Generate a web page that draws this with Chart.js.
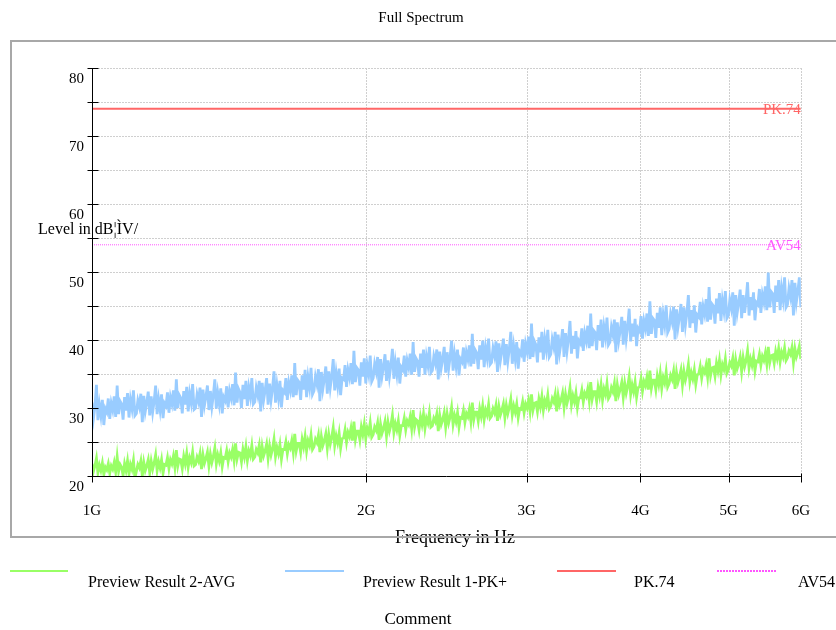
<!DOCTYPE html>
<html>
<head>
<meta charset="utf-8">
<title>Full Spectrum</title>
<script src="https://cdn.jsdelivr.net/npm/chart.js@4"></script>
<style>
    html, body { margin: 0; padding: 0; background: #ffffff; }
    #wrap { position: relative; width: 836px; height: 630px; }
</style>
</head>
<body>
<div id="wrap"><canvas id="spectrumChart"></canvas></div>
<script>
// Sweep definition (log spaced points between start and stop)
const sweepStartHz = 1e9;
const sweepStopHz = 6e9;

// X axis ticks
const xTickValues = [1e9, 2e9, 3e9, 4e9, 5e9, 6e9];
const xTickLabels = ['1G', '2G', '3G', '4G', '5G', '6G'];

// Y axis range in dBuV
const yMin = 20;
const yMax = 80;
const yStep = 5;

// Limit lines
const pkLimit = 74;
const avLimit = 54;

// Preview Result 1-PK+ (dBuV)
const pkLevels = [
    30.8, 28.5, 30.2, 33.4, 28.2, 30.5, 28.9, 31.2, 27.5, 29.9,
    29.4, 31.4, 28.4, 30.7, 29.7, 31.7, 28.7, 33.3, 29.1, 31.0,
    30.6, 28.3, 31.6, 29.6, 32.2, 28.6, 31.2, 29.9, 32.6, 28.9,
    29.2, 31.1, 30.2, 32.1, 27.9, 31.8, 29.5, 30.8, 32.4, 28.9,
    31.7, 29.4, 31.0, 33.3, 29.1, 31.3, 29.7, 32.0, 28.5, 30.7,
    30.3, 32.3, 29.3, 31.6, 30.6, 32.6, 29.6, 34.2, 30.0, 31.9,
    31.5, 29.2, 32.5, 30.5, 33.1, 29.5, 32.1, 30.8, 33.5, 29.8,
    30.0, 32.0, 31.0, 33.0, 28.7, 32.7, 30.4, 31.7, 33.3, 29.7,
    32.5, 30.2, 31.9, 34.2, 29.9, 32.2, 30.6, 32.9, 29.2, 31.6,
    31.1, 33.2, 30.1, 32.5, 31.5, 33.5, 30.4, 35.2, 30.8, 32.8,
    32.3, 30.0, 33.4, 31.3, 34.0, 30.3, 33.0, 31.7, 34.4, 30.6,
    30.9, 33.0, 31.9, 34.0, 29.5, 33.7, 31.2, 32.6, 34.4, 30.5,
    33.6, 31.2, 32.9, 35.4, 30.8, 33.3, 31.5, 34.0, 30.1, 32.6,
    32.3, 34.4, 31.2, 33.7, 32.6, 34.8, 31.6, 36.6, 31.9, 34.1,
    33.8, 31.2, 34.8, 32.7, 35.6, 31.6, 34.5, 33.0, 35.9, 32.0,
    32.5, 34.6, 33.5, 35.7, 31.0, 35.3, 32.8, 34.3, 36.1, 32.1,
    35.4, 33.0, 34.7, 37.2, 32.6, 35.1, 33.3, 35.8, 31.9, 34.4,
    34.2, 36.3, 33.1, 35.6, 34.5, 36.6, 33.5, 38.4, 33.8, 35.9,
    35.6, 33.3, 36.7, 34.6, 37.3, 33.6, 36.3, 35.0, 37.7, 33.9,
    34.4, 36.5, 35.4, 37.5, 33.0, 37.2, 34.7, 36.1, 37.9, 34.0,
    37.0, 34.6, 36.3, 38.7, 34.3, 36.7, 35.0, 37.4, 33.6, 36.0,
    35.6, 37.7, 34.6, 37.0, 36.0, 38.0, 34.9, 39.7, 35.3, 37.3,
    36.9, 34.6, 38.0, 35.9, 38.6, 34.9, 37.6, 36.3, 39.0, 35.2,
    35.5, 37.6, 36.6, 38.6, 34.2, 38.3, 35.9, 37.2, 39.0, 35.2,
    38.2, 35.8, 37.5, 39.9, 35.5, 37.9, 36.2, 38.6, 34.8, 37.2,
    36.8, 38.9, 35.8, 38.2, 37.2, 39.2, 36.1, 40.9, 36.5, 38.5,
    38.1, 35.7, 39.2, 37.1, 39.9, 36.0, 38.8, 37.4, 40.2, 36.4,
    36.7, 38.8, 37.7, 39.8, 35.3, 39.5, 37.0, 38.4, 40.2, 36.3,
    39.4, 36.9, 38.7, 41.2, 36.5, 39.0, 37.2, 39.7, 35.8, 38.3,
    37.9, 40.1, 36.8, 39.4, 38.3, 40.5, 37.2, 42.4, 37.5, 39.8,
    39.3, 36.7, 40.4, 38.2, 41.2, 37.1, 40.1, 38.6, 41.5, 37.5,
    37.9, 40.1, 39.0, 41.2, 36.4, 40.8, 38.2, 39.7, 41.6, 37.5,
    41.0, 38.4, 40.2, 42.8, 38.0, 40.6, 38.7, 41.3, 37.3, 39.9,
    39.5, 41.7, 38.4, 41.0, 39.9, 42.1, 38.8, 43.9, 39.1, 41.4,
    41.1, 38.5, 42.2, 40.0, 43.0, 38.9, 41.9, 40.4, 43.3, 39.3,
    39.7, 41.9, 40.8, 43.0, 38.2, 42.6, 40.0, 41.5, 43.4, 39.3,
    42.8, 40.2, 42.0, 44.6, 39.8, 42.4, 40.5, 43.1, 39.1, 41.7,
    41.3, 43.5, 40.2, 42.8, 41.7, 43.9, 40.6, 45.7, 40.9, 43.2,
    42.9, 40.3, 44.0, 41.8, 44.8, 40.7, 43.7, 42.2, 45.1, 41.1,
    41.6, 43.8, 42.7, 44.9, 40.1, 44.5, 41.9, 43.4, 45.3, 41.2,
    44.8, 42.2, 44.0, 46.6, 41.8, 44.4, 42.5, 45.1, 41.1, 43.7,
    43.4, 45.6, 42.3, 44.9, 43.8, 46.0, 42.7, 47.8, 43.0, 45.3,
    45.0, 42.4, 46.1, 43.9, 46.9, 42.8, 45.8, 44.3, 47.2, 43.2,
    43.6, 45.9, 44.7, 47.0, 42.1, 46.6, 44.0, 45.5, 47.4, 43.2,
    46.6, 44.0, 45.9, 48.5, 43.6, 46.3, 44.4, 47.0, 42.9, 45.5,
    45.2, 47.5, 44.0, 46.7, 45.6, 47.9, 44.4, 49.9, 44.8, 47.1,
    46.8, 44.0, 48.0, 45.6, 48.8, 44.4, 47.6, 46.0, 49.2, 44.8,
    45.2, 47.6, 46.4, 48.8, 43.6, 48.4, 45.6, 47.2, 49.2, 44.8
];

// Preview Result 2-AVG (dBuV)
const avgLevels = [
    21.8, 20.7, 21.5, 22.6, 20.5, 21.6, 20.8, 21.9, 20.2, 21.3,
    20.9, 21.8, 20.4, 21.5, 21.0, 22.0, 20.6, 22.8, 20.7, 21.7,
    21.3, 20.1, 21.8, 20.8, 22.2, 20.3, 21.7, 21.0, 22.3, 19.7,
    20.7, 21.7, 21.2, 22.2, 20.0, 22.0, 20.8, 21.5, 22.4, 20.5,
    22.2, 21.0, 21.9, 23.1, 20.8, 22.1, 21.2, 22.4, 20.4, 21.7,
    21.6, 22.7, 21.1, 22.4, 21.8, 22.9, 21.3, 23.8, 21.5, 22.5,
    22.4, 21.1, 22.9, 21.8, 23.3, 21.3, 22.7, 22.0, 23.5, 21.5,
    21.7, 22.8, 22.2, 23.3, 21.0, 23.1, 21.9, 22.6, 23.5, 21.5,
    23.2, 22.0, 22.9, 24.1, 21.8, 23.1, 22.2, 23.4, 21.4, 22.7,
    22.6, 23.7, 22.1, 23.4, 22.8, 23.9, 22.3, 24.8, 22.5, 23.5,
    23.4, 22.1, 23.9, 22.8, 24.3, 22.3, 23.7, 23.0, 24.5, 22.5,
    22.8, 23.9, 23.4, 24.5, 22.0, 24.3, 23.0, 23.7, 24.7, 22.6,
    24.4, 23.1, 24.0, 25.4, 22.9, 24.2, 23.3, 24.6, 22.5, 23.9,
    23.9, 25.0, 23.3, 24.6, 24.1, 25.2, 23.5, 26.2, 23.7, 24.8,
    24.8, 23.5, 25.4, 24.3, 25.8, 23.7, 25.2, 24.5, 26.0, 23.9,
    24.3, 25.4, 24.9, 26.0, 23.5, 25.8, 24.5, 25.2, 26.2, 24.1,
    26.1, 24.7, 25.7, 27.1, 24.5, 25.9, 24.9, 26.3, 24.1, 25.5,
    25.6, 26.8, 25.0, 26.4, 25.8, 27.0, 25.2, 28.0, 25.4, 26.6,
    26.6, 25.3, 27.2, 26.1, 27.6, 25.5, 27.0, 26.3, 27.8, 25.7,
    26.1, 27.2, 26.7, 27.8, 25.3, 27.6, 26.3, 27.0, 28.0, 25.9,
    27.9, 26.6, 27.5, 28.9, 26.4, 27.7, 26.8, 28.1, 26.0, 27.4,
    27.4, 28.5, 26.8, 28.1, 27.6, 28.7, 27.0, 29.7, 27.2, 28.3,
    28.1, 26.8, 28.7, 27.6, 29.1, 27.0, 28.5, 27.8, 29.3, 27.2,
    27.4, 28.5, 28.0, 29.1, 26.6, 28.9, 27.6, 28.3, 29.3, 27.2,
    29.1, 27.8, 28.7, 30.1, 27.6, 28.9, 28.0, 29.3, 27.2, 28.6,
    28.5, 29.6, 27.9, 29.2, 28.7, 29.8, 28.1, 30.8, 28.3, 29.4,
    29.4, 28.1, 29.9, 28.8, 30.3, 28.3, 29.7, 29.0, 30.5, 28.5,
    28.8, 29.9, 29.3, 30.4, 28.1, 30.2, 29.0, 29.7, 30.6, 28.6,
    30.4, 29.2, 30.1, 31.3, 29.0, 30.3, 29.4, 30.6, 28.6, 29.9,
    29.8, 30.9, 29.3, 30.6, 30.0, 31.1, 29.5, 32.0, 29.7, 30.7,
    30.8, 29.5, 31.3, 30.2, 31.7, 29.7, 31.1, 30.4, 31.9, 29.9,
    30.3, 31.4, 30.9, 32.0, 29.5, 31.8, 30.5, 31.2, 32.2, 30.1,
    32.0, 30.7, 31.6, 33.0, 30.5, 31.8, 30.9, 32.2, 30.1, 31.5,
    31.5, 32.6, 30.9, 32.2, 31.7, 32.8, 31.1, 33.8, 31.3, 32.4,
    32.4, 31.0, 33.0, 31.8, 33.4, 31.2, 32.8, 32.0, 33.6, 31.4,
    31.8, 33.0, 32.4, 33.6, 31.0, 33.4, 32.0, 32.8, 33.8, 31.6,
    33.6, 32.2, 33.2, 34.6, 32.0, 33.4, 32.4, 33.8, 31.6, 33.0,
    33.1, 34.3, 32.5, 33.9, 33.3, 34.5, 32.7, 35.5, 32.9, 34.1,
    34.1, 32.7, 34.7, 33.5, 35.1, 32.9, 34.5, 33.7, 35.3, 33.1,
    33.6, 34.8, 34.2, 35.4, 32.8, 35.2, 33.8, 34.6, 35.6, 33.4,
    35.4, 34.1, 35.0, 36.4, 33.9, 35.2, 34.3, 35.6, 33.5, 34.9,
    35.0, 36.1, 34.4, 35.7, 35.2, 36.3, 34.6, 37.3, 34.8, 35.9,
    36.0, 34.7, 36.6, 35.5, 37.0, 34.9, 36.4, 35.7, 37.2, 35.1,
    35.6, 36.7, 36.2, 37.3, 34.8, 37.1, 35.8, 36.5, 37.5, 35.4,
    37.4, 36.1, 37.0, 38.4, 35.9, 37.2, 36.3, 37.6, 35.5, 36.9,
    36.8, 37.9, 36.3, 37.6, 37.0, 38.1, 36.5, 39.0, 36.7, 37.7,
    37.8, 36.6, 38.3, 37.3, 38.7, 36.8, 38.2, 37.5, 38.8, 37.0,
    37.4, 38.4, 37.9, 38.9, 36.7, 38.7, 37.5, 38.2, 39.1, 37.2
];

const colors = {
    avg: '#99ff66',
    pk: '#99ccff',
    pkLimit: '#ff6666',
    avLimit: '#ff55ff',
    grid: '#cfcfcf',
    frame: '#a8a8a8'
};

const serif = '"Liberation Serif", "Times New Roman", serif';

// Frequency of each sweep point
function sweepFrequencies(n) {
    const ratio = sweepStopHz / sweepStartHz;
    const out = [];
    for (let i = 0; i < n; i++) {
        out.push(sweepStartHz * Math.pow(ratio, i / (n - 1)));
    }
    return out;
}

function toPoints(levels) {
    const freqs = sweepFrequencies(levels.length);
    return levels.map((v, i) => ({ x: freqs[i], y: v }));
}

function limitPoints(level) {
    return [{ x: sweepStartHz, y: level }, { x: sweepStopHz, y: level }];
}

// Frame, grid, axes, labels and legend
const decorPlugin = {
    id: 'decor',
    beforeDraw(chart) {
        const { ctx, chartArea: a, scales } = chart;
        ctx.save();
        ctx.fillStyle = '#ffffff';
        ctx.fillRect(0, 0, chart.width, chart.height);

        // dotted grid
        ctx.strokeStyle = colors.grid;
        ctx.lineWidth = 1;
        ctx.setLineDash([2, 1]);
        scales.y.ticks.forEach(t => {
            if (t.value === yMin) return;
            const y = Math.round(scales.y.getPixelForValue(t.value)) + 0.5;
            ctx.beginPath();
            ctx.moveTo(a.left, y);
            ctx.lineTo(a.right, y);
            ctx.stroke();
        });
        xTickValues.slice(1).forEach(v => {
            const x = Math.round(scales.x.getPixelForValue(v)) + 0.5;
            ctx.beginPath();
            ctx.moveTo(x, a.top);
            ctx.lineTo(x, a.bottom);
            ctx.stroke();
        });
        ctx.restore();
    },
    afterDatasetsDraw(chart) {
        const { ctx, chartArea: a, scales } = chart;
        ctx.save();
        ctx.strokeStyle = '#000000';
        ctx.lineWidth = 1;
        const ax = Math.round(a.left) + 0.5;
        const ay = Math.round(a.bottom) + 0.5;
        ctx.beginPath();
        ctx.moveTo(ax, a.top);
        ctx.lineTo(ax, ay);
        ctx.lineTo(a.right, ay);
        ctx.stroke();
        // y ticks cross the axis
        scales.y.ticks.forEach(t => {
            const y = Math.round(scales.y.getPixelForValue(t.value)) + 0.5;
            ctx.beginPath();
            ctx.moveTo(ax - 5, y);
            ctx.lineTo(ax + 6, y);
            ctx.stroke();
        });
        // x ticks
        xTickValues.forEach(v => {
            const x = Math.round(scales.x.getPixelForValue(v)) + 0.5;
            ctx.beginPath();
            ctx.moveTo(x, ay - 3);
            ctx.lineTo(x, ay + 6);
            ctx.stroke();
        });

        // limit line labels
        ctx.font = '15px ' + serif;
        ctx.textAlign = 'right';
        ctx.textBaseline = 'middle';
        ctx.fillStyle = colors.pkLimit;
        ctx.fillText('PK.74', a.right, scales.y.getPixelForValue(pkLimit) + 1);
        ctx.fillStyle = colors.avLimit;
        ctx.fillText('AV54', a.right, scales.y.getPixelForValue(avLimit) + 1);
        ctx.restore();
    },
    afterDraw(chart) {
        const { ctx } = chart;
        ctx.save();
        ctx.fillStyle = '#000000';
        ctx.textBaseline = 'middle';

        ctx.font = '15px ' + serif;
        ctx.textAlign = 'center';
        ctx.fillText('Full Spectrum', 421, 18);

        ctx.font = '16px ' + serif;
        ctx.textAlign = 'left';
        ctx.fillText('Level in dB\u00a6\u00ccV/', 38, 230);

        ctx.font = '18px ' + serif;
        ctx.textAlign = 'center';
        ctx.fillText('Frequency in Hz', 455, 538);

        // frame
        ctx.strokeStyle = colors.frame;
        ctx.lineWidth = 2;
        ctx.strokeRect(11, 41, 840, 496);

        // legend
        const items = [
            { label: 'Preview Result 2-AVG', color: colors.avg, x0: 10, x1: 68, tx: 88, dash: [] },
            { label: 'Preview Result 1-PK+', color: colors.pk, x0: 285, x1: 344, tx: 363, dash: [] },
            { label: 'PK.74', color: colors.pkLimit, x0: 557, x1: 616, tx: 634, dash: [] },
            { label: 'AV54', color: colors.avLimit, x0: 717, x1: 776, tx: 798, dash: [2, 1] }
        ];
        ctx.font = '16px ' + serif;
        ctx.textAlign = 'left';
        items.forEach(it => {
            ctx.strokeStyle = it.color;
            ctx.lineWidth = 2;
            ctx.setLineDash(it.dash);
            ctx.beginPath();
            ctx.moveTo(it.x0, 571);
            ctx.lineTo(it.x1, 571);
            ctx.stroke();
            ctx.fillStyle = '#000000';
            ctx.fillText(it.label, it.tx, 583);
        });
        ctx.setLineDash([]);

        ctx.font = '17px ' + serif;
        ctx.textAlign = 'center';
        ctx.fillText('Comment', 418, 620);
        ctx.restore();
    }
};

Chart.defaults.font.family = serif;
Chart.defaults.color = '#000000';

const ctx = document.getElementById('spectrumChart').getContext('2d');
const chart = new Chart(ctx, {
    type: 'line',
    data: {
        datasets: [
            {
                label: 'Preview Result 2-AVG',
                data: toPoints(avgLevels),
                borderColor: colors.avg,
                borderWidth: 2.8,
                pointRadius: 0,
                tension: 0
            },
            {
                label: 'Preview Result 1-PK+',
                data: toPoints(pkLevels),
                borderColor: colors.pk,
                borderWidth: 2.8,
                pointRadius: 0,
                tension: 0
            },
            {
                label: 'PK.74',
                data: limitPoints(pkLimit),
                borderColor: colors.pkLimit,
                borderWidth: 2,
                pointRadius: 0
            },
            {
                label: 'AV54',
                data: limitPoints(avLimit),
                borderColor: colors.avLimit,
                borderWidth: 1,
                borderDash: [1, 1],
                pointRadius: 0
            }
        ]
    },
    options: {
        responsive: true,
        maintainAspectRatio: false,
        animation: false,
        layout: { padding: { top: 68, right: 29, left: 0, bottom: 0 } },
        plugins: {
            legend: { display: false },
            title: { display: false },
            tooltip: { enabled: false }
        },
        scales: {
            x: {
                type: 'logarithmic',
                min: sweepStartHz,
                max: sweepStopHz,
                afterBuildTicks: s => { s.ticks = xTickValues.map(v => ({ value: v })); },
                afterFit: s => { s.height = 154; },
                grid: { display: false, drawTicks: false },
                border: { display: false },
                ticks: {
                    autoSkip: false,
                    maxRotation: 0,
                    padding: 26,
                    font: { size: 15 },
                    callback: (v) => xTickLabels[xTickValues.indexOf(v)] || ''
                }
            },
            y: {
                min: yMin,
                max: yMax,
                afterFit: s => { s.width = 92; },
                grid: { display: false, drawTicks: false },
                border: { display: false },
                ticks: {
                    stepSize: yStep,
                    autoSkip: false,
                    padding: 8,
                    labelOffset: 11,
                    font: { size: 15 },
                    callback: (v) => (v % 10 === 0 ? String(v) : '')
                }
            }
        }
    },
    plugins: [decorPlugin]
});
</script>
</body>
</html>
